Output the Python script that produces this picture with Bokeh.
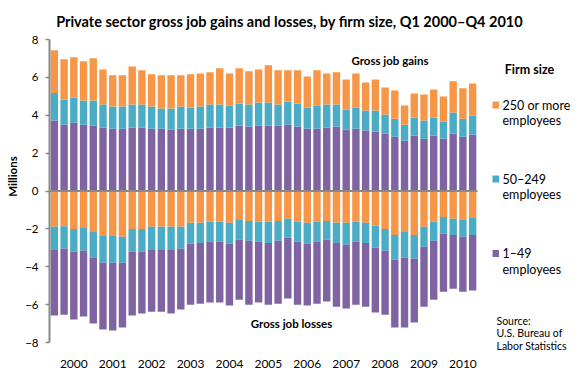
import numpy as np
from bokeh.plotting import figure
from bokeh.models import Range1d, FixedTicker, Label, BoxAnnotation
from bokeh.embed import file_html
from bokeh.resources import INLINE

# ---- data (millions of jobs), Q1 2000 .. Q4 2010 ----
years = [str(y) for y in range(2000, 2011)]

gain_small = [3.72, 3.50, 3.61, 3.50, 3.45, 3.35, 3.29, 3.29, 3.35, 3.35,
              3.29, 3.29, 3.24, 3.29, 3.29, 3.29, 3.35, 3.35, 3.35, 3.45,
              3.40, 3.45, 3.45, 3.45, 3.50, 3.40, 3.29, 3.29, 3.35, 3.40,
              3.24, 3.29, 3.19, 3.13, 3.03, 2.87, 2.65, 2.92, 2.76, 2.92,
              2.76, 3.03, 2.87, 2.97]
gain_mid = [1.45, 1.33, 1.33, 1.28, 1.33, 1.22, 1.17, 1.17, 1.22, 1.22,
            1.17, 1.06, 1.11, 1.17, 1.12, 1.17, 1.22, 1.22, 1.16, 1.17,
            1.17, 1.22, 1.22, 1.12, 1.23, 1.22, 1.12, 1.22, 1.22, 1.17,
            1.06, 1.12, 1.06, 1.12, 1.01, 0.95, 0.85, 0.96, 0.96, 0.96,
            0.90, 1.11, 0.95, 1.01]
gain_large = [2.26, 2.13, 2.12, 2.07, 2.23, 1.85, 1.65, 1.65, 2.01, 1.80,
              1.70, 1.76, 1.76, 1.65, 1.75, 1.75, 1.70, 1.91, 1.70, 1.86,
              1.75, 1.75, 1.97, 1.80, 1.64, 1.75, 1.64, 1.86, 1.64, 1.70,
              1.59, 1.80, 1.48, 1.64, 1.43, 1.49, 1.01, 1.27, 1.38, 1.48,
              1.33, 1.65, 1.60, 1.70]

loss_large = [1.89, 1.86, 2.00, 1.95, 2.16, 2.37, 2.37, 2.42, 2.00, 2.00,
              1.89, 1.89, 1.89, 1.89, 1.68, 1.68, 1.63, 1.63, 1.68, 1.53,
              1.58, 1.63, 1.63, 1.58, 1.47, 1.63, 1.68, 1.63, 1.58, 1.68,
              1.68, 1.63, 1.68, 1.84, 2.00, 2.32, 2.16, 2.32, 1.89, 1.63,
              1.37, 1.47, 1.53, 1.42]
loss_mid = [1.22, 1.19, 1.21, 1.21, 1.37, 1.42, 1.42, 1.37, 1.21, 1.21,
            1.22, 1.22, 1.22, 1.16, 1.11, 1.06, 1.05, 1.05, 1.11, 1.05,
            1.05, 1.05, 1.11, 1.05, 1.00, 1.05, 1.11, 1.05, 1.00, 1.06,
            1.16, 1.05, 1.06, 1.16, 1.16, 1.31, 1.37, 1.26, 1.06, 1.00,
            0.89, 0.85, 0.89, 0.90]
loss_small = [3.47, 3.48, 3.58, 3.47, 3.47, 3.53, 3.58, 3.42, 3.37, 3.26,
              3.26, 3.26, 3.36, 3.21, 3.21, 3.21, 3.21, 3.21, 3.26, 3.16,
              3.37, 3.21, 3.26, 3.32, 3.21, 3.32, 3.26, 3.27, 3.26, 3.37,
              3.37, 3.32, 3.37, 3.42, 3.37, 3.58, 3.68, 3.37, 3.16, 3.11,
              3.06, 2.84, 2.90, 2.94]

y_ticks = [-8, -6, -4, -2, 0, 2, 4, 6, 8]

# ---- style ----
PURPLE, TEAL, ORANGE = "#8064A2", "#4BACC6", "#F79646"
GREY = "#898989"
FONT = "Lato"

n = len(gain_small)
x = np.arange(n)
gs, gm, gl = map(np.array, (gain_small, gain_mid, gain_large))
ls, lm, ll = map(np.array, (loss_small, loss_mid, loss_large))

# page-pixel geometry: bar area spans page x 50..478, value 8 at y 40, -8 at y 343
XS = 428 / n
YS = 303 / 16
def dx(X):
    return -0.5 + (X - 50) / XS
def dy(Y):
    return 8 - (Y - 40) / YS

# the figure's origin appears at page (1, 1) in the photograph
ORIGIN = 1
# frame extends over title / legend / source area so that notes are inside it
FR_L, FR_R, FR_T, FR_B = 50, 572, 1, 353
p = figure(frame_width=FR_R - FR_L, frame_height=FR_B - FR_T,
           output_backend="svg", toolbar_location=None,
           x_range=Range1d(dx(FR_L), dx(FR_R)), y_range=Range1d(dy(FR_B), dy(FR_T)),
           min_border_left=FR_L - ORIGIN, min_border_right=0, min_border_top=0,
           min_border_bottom=16)
p.outline_line_color = None
p.grid.visible = False
p.background_fill_color = "white"
p.border_fill_color = "white"

W = 0.76
# gains
p.vbar(x=x, width=W, bottom=0, top=gs, fill_color=PURPLE, line_color=None)
p.vbar(x=x, width=W, bottom=gs, top=gs + gm, fill_color=TEAL, line_color=None)
p.vbar(x=x, width=W, bottom=gs + gm, top=gs + gm + gl, fill_color=ORANGE, line_color=None)
# losses
p.vbar(x=x, width=W, top=0, bottom=-ll, fill_color=ORANGE, line_color=None)
p.vbar(x=x, width=W, top=-ll, bottom=-(ll + lm), fill_color=TEAL, line_color=None)
p.vbar(x=x, width=W, top=-(ll + lm), bottom=-(ll + lm + ls), fill_color=PURPLE, line_color=None)

# zero line across the bar area
p.segment(x0=[-0.5], x1=[n - 0.5], y0=[0], y1=[0], line_color=GREY, line_width=2)

# y axis
ya = p.yaxis[0]
ya.ticker = FixedTicker(ticks=y_ticks)
ya.bounds = (y_ticks[0], y_ticks[-1])
ya.axis_line_color = GREY
ya.axis_line_width = 2
ya.major_tick_line_color = GREY
ya.major_tick_line_width = 1.5
ya.major_tick_out = 4
ya.major_tick_in = 0
ya.minor_tick_line_color = None
ya.major_label_standoff = 7
ya.major_label_text_font = FONT
ya.major_label_text_font_size = "11.5px"
ya.major_label_text_color = "black"
ya.axis_label = "Millions"
ya.axis_label_text_font = FONT
ya.axis_label_text_font_style = "bold"
ya.axis_label_text_font_size = "11.5px"
ya.axis_label_text_color = "black"
ya.axis_label_standoff = 3

# x axis (years)
xa = p.xaxis[0]
tick_pos = [2 + 4 * i for i in range(len(years))]
xa.ticker = FixedTicker(ticks=tick_pos)
xa.major_label_overrides = {t: yr for t, yr in zip(tick_pos, years)}
xa.axis_line_color = None
xa.major_tick_line_color = None
xa.minor_tick_line_color = None
xa.major_tick_out = 0
xa.major_tick_in = 0
xa.major_label_standoff = 7
xa.major_label_text_font = FONT
xa.major_label_text_font_size = "12px"
xa.major_label_text_color = "black"

def lab(text, X, Y, size="12px", bold=False, align="left"):
    p.add_layout(Label(x=dx(X), y=dy(Y), text=text, text_align=align,
                       text_baseline="middle", text_font=FONT,
                       text_font_size=size,
                       text_font_style="bold" if bold else "normal",
                       text_color="black"))

lab("Private sector gross job gains and losses, by firm size,  Q1 2000\u2013Q4 2010",
    292, 22, size="14.5px", bold=True, align="center")
lab("Gross job gains", 390.5, 61, size="11.5px", bold=True, align="center")
lab("Gross job losses", 292, 324, size="11.5px", bold=True, align="center")
lab("Firm size", 530, 69.5, size="12.5px", bold=True, align="center")

legend_rows = [(ORANGE, "250 or more", 105.5), (TEAL, "50\u2013249", 179.5), (PURPLE, "1\u201349", 254)]
for col, txt, yc in legend_rows:
    p.add_layout(BoxAnnotation(left=dx(493), right=dx(499.5), top=dy(yc - 3.5),
                               bottom=dy(yc + 3.5), fill_color=col, fill_alpha=1,
                               line_color=None))
    lab(txt, 503, yc, size="12.5px")
    lab("employees", 503, yc + 15.5, size="12.5px")

lab("Source:", 497, 321.3, size="10.5px")
lab("U.S. Bureau of", 497, 333.8, size="10.5px")
lab("Labor Statistics", 497, 346.6, size="10.5px")

open("out.html", "w").write(file_html(p, INLINE))
